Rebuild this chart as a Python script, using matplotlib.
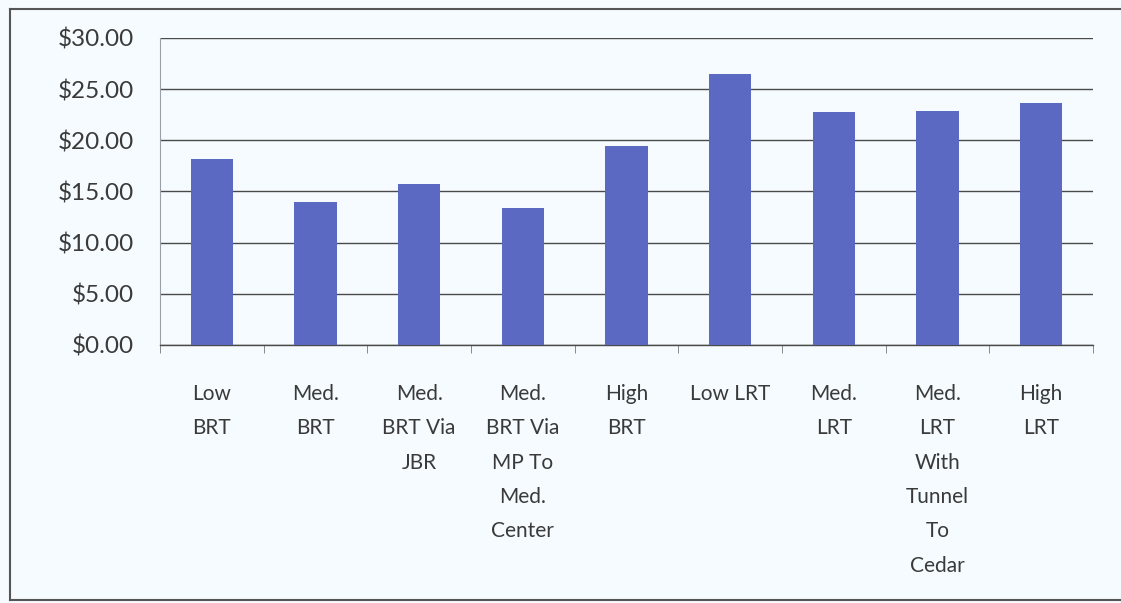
import matplotlib.pyplot as plt
from matplotlib.lines import Line2D
from matplotlib.ticker import FuncFormatter, MultipleLocator

# Cost per rider by alternative
categories = [
    "Low\nBRT",
    "Med.\nBRT",
    "Med.\nBRT Via\nJBR",
    "Med.\nBRT Via\nMP To\nMed.\nCenter",
    "High\nBRT",
    "Low LRT",
    "Med.\nLRT",
    "Med.\nLRT\nWith\nTunnel\nTo\nCedar",
    "High\nLRT",
]
costs = [18.2, 14.0, 15.7, 13.4, 19.4, 26.5, 22.8, 22.9, 23.6]

bg = "#f5fbfe"
bar_color = "#5b69c2"
text_color = "#3a3a3a"

plt.rcParams["font.family"] = ["Lato", "DejaVu Sans"]

fig = plt.figure(figsize=(11.21, 6.03), dpi=100)
fig.patch.set_facecolor(bg)
ax = fig.add_axes([0.1427, 0.428, 0.8323, 0.509])
ax.set_facecolor(bg)

x = range(len(categories))
ax.bar(x, costs, width=0.41, color=bar_color, zorder=3)

ax.set_xlim(-0.5, len(categories) - 0.5)
ax.set_ylim(0, 30)
ax.yaxis.set_major_locator(MultipleLocator(5))
ax.yaxis.set_major_formatter(FuncFormatter(lambda v, _: f"${v:.2f}"))
ax.grid(axis="y", color="#4a4a4a", linewidth=1.0, zorder=0)

ax.set_xticks(x)
ax.set_xticklabels(categories, linespacing=1.9, va="top")
ax.xaxis.set_minor_locator(MultipleLocator(1, offset=0.5))
ax.tick_params(axis="x", which="major", length=0, pad=28,
               labelsize=15, labelcolor=text_color)
ax.tick_params(axis="x", which="minor", length=6, color="#777777", direction="out")
ax.tick_params(axis="y", length=0, pad=19, labelsize=17.5, labelcolor=text_color)

for side in ["top", "right"]:
    ax.spines[side].set_visible(False)
ax.spines["left"].set_color("#9aa0a8")
ax.spines["left"].set_linewidth(0.8)
ax.spines["bottom"].set_color("#4a4a4a")
ax.spines["bottom"].set_linewidth(1.0)

# frame around the whole chart
for xs, ys in [([0.0085, 0.0085], [0.005, 0.985]),
               ([0.0085, 1.0], [0.985, 0.985]),
               ([0.0085, 1.0], [0.005, 0.005])]:
    fig.add_artist(Line2D(xs, ys, transform=fig.transFigure,
                          color="#555555", linewidth=1.5))

fig.savefig("out.png", dpi=100, facecolor=bg)
